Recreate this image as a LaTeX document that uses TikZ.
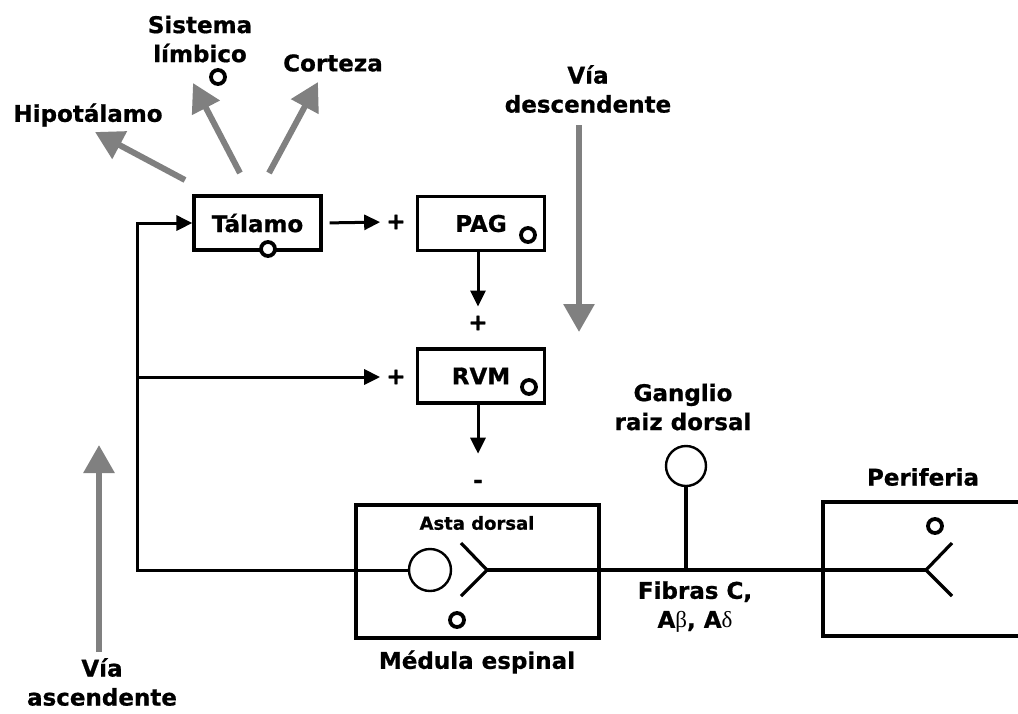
\documentclass[tikz,border=0pt]{standalone}
\usepackage{fontspec}
\setmainfont{DejaVu Sans}[BoldFeatures={FakeBold=0.8}]
\newfontfamily\grk{Liberation Serif}
\usetikzlibrary{arrows.meta}
\definecolor{arrgray}{RGB}{128,128,128}
\begin{document}
\begin{tikzpicture}[x=1pt,y=-1pt,
 every node/.style={font=\fontsize{23}{29}\selectfont\bfseries},
 box/.style={draw, line width=3.2pt, minimum width=127pt, minimum height=54pt, inner sep=0pt},
 ln/.style={line width=3.2pt},
 thinln/.style={line width=2.4pt},
 arr/.style={line width=3pt, -{Triangle[length=16pt,width=15pt]}},
 garr/.style={line width=6pt, arrgray, -{Triangle[length=28pt,width=30pt]}},
 dot/.style={circle, draw, line width=3.8pt, minimum size=14pt, inner sep=0pt, fill=white},
 txt/.style={align=center, inner sep=0pt},
 small/.style={font=\fontsize{18}{22}\selectfont\bfseries}
]
\useasboundingbox (0,0) rectangle (1018,713);

% boxes
\node[box] (tal) at (257.5,223) {Tálamo};
\node[box] (pag) at (481,223.5) {PAG};
\node[box] (rvm) at (481,376) {RVM};
\node[draw, line width=3.2pt, minimum width=243pt, minimum height=133pt, inner sep=0pt] (med) at (477.5,571.5) {};
\draw[ln] (1018,502) -- (823,502) -- (823,636) -- (1018,636);

% small circles
\node[dot] (d1) at (218,77) {};
\node[dot] (d2) at (268,249) {};
\node[dot] (d3) at (528,235) {};
\node[dot] (d4) at (529,387) {};
\node[dot] (d5) at (457,620) {};
\node[dot] (d6) at (935,526) {};

% signs
\node[inner sep=0pt] (pT) at (396,222) {+};
\node[inner sep=0pt] (pR) at (396,377) {+};
\node[inner sep=0pt] (pM) at (478,323) {+};
\node[inner sep=0pt] (mi) at (478,484) {-};

% labels
\node[txt] (hip) at (88,115) {Hipotálamo};
\node[txt] (sis) at (200,39) {Sistema\\límbico};
\node[txt] (cor) at (333,63) {Corteza};
\node[txt] (vd) at (588,89) {Vía\\descendente};
\node[txt] (va) at (102,682) {Vía\\ascendente};
\node[txt] (grd) at (683,407) {Ganglio\\raiz dorsal};
\node[txt] (fib) at (695,607) {Fibras C,\\A{\grk\mdseries β}, A{\grk\mdseries δ}};
\node[txt] (per) at (923,477) {Periferia};
\node[txt] (mlab) at (477,662) {Médula espinal};
\node[txt, small] (asta) at (477,523) {Asta dorsal};

% neurons
\node[circle, draw, thinln, minimum size=42pt, inner sep=0pt] (ca) at (430,570) {};
\node[circle, draw, thinln, minimum size=40pt, inner sep=0pt] (gan) at (686,466) {};
\coordinate (vA) at (487,570);
\coordinate (vP) at (926,570);
\draw[ln] (461,543) -- (vA) -- (461,596);
\draw[ln] (952,543) -- (vP) -- (952,596);
\draw[ln] (vA) -- (vP);
\draw[ln] (gan.south) -- (gan.south |- vA);

% black connectors
\coordinate (jl) at (137,570);
\coordinate (jm) at (137,377);
\draw[arr] (ca.west) -- (jl) |- (tal.west);
\draw[arr, shorten >=6pt] (jm) -- (pR.west);
\draw[arr, shorten <=7pt, shorten >=6pt] (tal.east) -- (pT.west);
\draw[arr, shorten >=9pt] (pag.south -| pM) -- (pM.north);
\draw[arr, shorten >=26pt] (rvm.south -| mi) -- (mi.north);

% gray arrows
\coordinate (g1s) at (185,180); \coordinate (g1e) at (95,132);
\coordinate (g2s) at (240,173); \coordinate (g2e) at (193,83);
\coordinate (g3s) at (269,173); \coordinate (g3e) at (318,82);
\coordinate (gds) at (579,125); \coordinate (gde) at (579,332);
\coordinate (gas) at (99,652);  \coordinate (gae) at (99,445);
\draw[garr] (g1s) -- (g1e);
\draw[garr] (g2s) -- (g2e);
\draw[garr] (g3s) -- (g3e);
\draw[garr] (gds) -- (gde);
\draw[garr] (gas) -- (gae);
\end{tikzpicture}
\end{document}
